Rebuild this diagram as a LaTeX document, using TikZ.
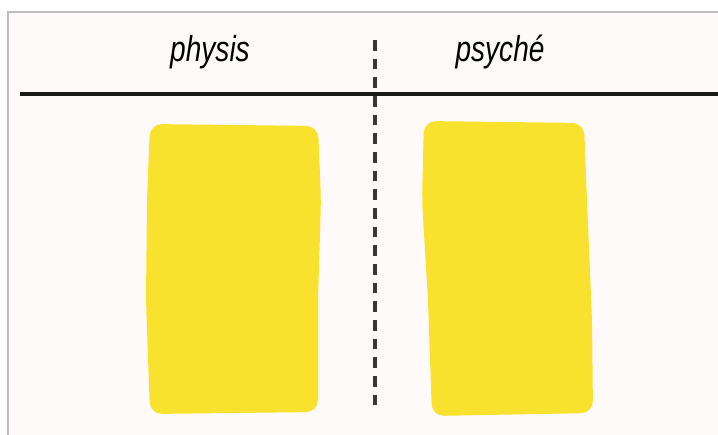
\documentclass[tikz,border=0pt]{standalone}
\usepackage{fontspec}
\newfontfamily\handfont[FakeStretch=0.78]{Liberation Sans}
\definecolor{paper}{HTML}{FFFAFA}
\definecolor{frame}{HTML}{BDBDBD}
\definecolor{paint}{HTML}{F9E22E}
\begin{document}
\begin{tikzpicture}[x=0.75pt,y=-0.75pt,
  label/.style={font=\handfont\itshape\fontsize{27}{30}\selectfont, inner sep=0pt},
  patch/.style={fill=paint, draw=none},
  divider/.style={line width=3pt, black!90},
  sep/.style={line width=2.3pt, black!78, dash pattern=on 8pt off 6pt}]
\useasboundingbox (0,0) rectangle (718,435);
\fill[white] (0,0) rectangle (718,435);
\fill[paper] (8,12) rectangle (718,435);
\draw[frame, line width=1.5pt] (8,435) -- (8,12) -- (718,12);
% labels
\node[label] (physis) at (210,52) {physis};
\node[label] (psyche) at (500,52) {psyché};
% lines
\coordinate (hl) at (20,94);
\coordinate (hr) at (718,94);
\coordinate (vt) at (375,40);
\coordinate (vb) at (375,412);
\draw[divider] (hl) -- (hr);
\draw[sep] (vt) -- (vb);
% yellow patches
\fill[patch, rounded corners=9pt] (150,124) -- (318,126) -- (321,200) -- (318,300) -- (318,412) -- (150,414) -- (146,300) -- (147,200) -- cycle;
\fill[patch, rounded corners=9pt] (424,121) -- (584,123) -- (587,200) -- (592,320) -- (593,413) -- (432,416) -- (428,300) -- (422,200) -- cycle;
\end{tikzpicture}
\end{document}
